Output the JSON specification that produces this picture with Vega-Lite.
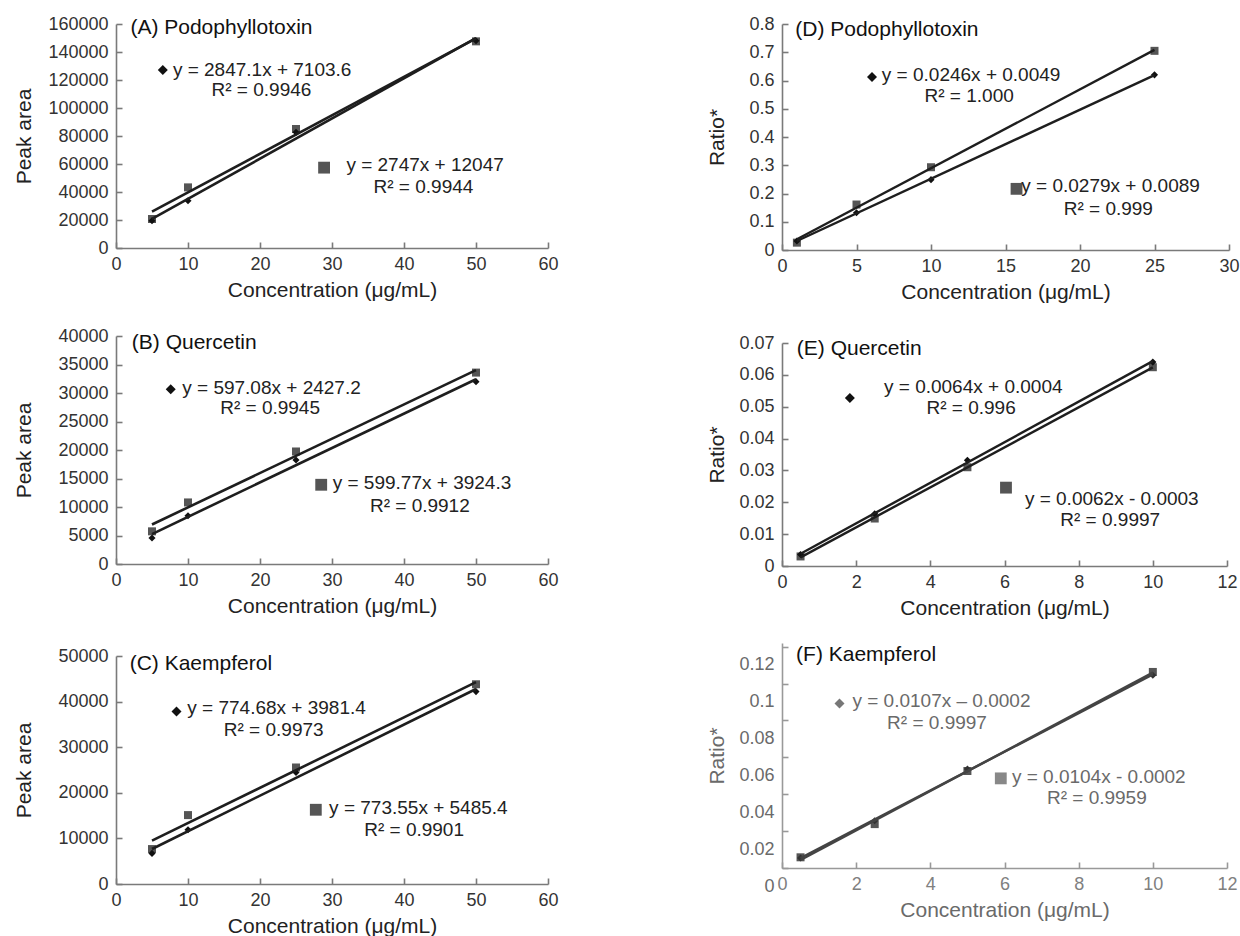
{
"$schema": "https://vega.github.io/schema/vega-lite/v6.json",
"padding": {"left": 13, "top": 15, "right": 0, "bottom": 0},
"background": "white",
"datasets": {
"pts": [
{"p":"A","s":"d","x":5,"y":19500},{"p":"A","s":"d","x":10,"y":33800},{"p":"A","s":"d","x":25,"y":82600},{"p":"A","s":"d","x":50,"y":148000},
{"p":"A","s":"q","x":5,"y":20700},{"p":"A","s":"q","x":10,"y":43300},{"p":"A","s":"q","x":25,"y":85000},{"p":"A","s":"q","x":50,"y":147600},
{"p":"B","s":"d","x":5,"y":4560},{"p":"B","s":"d","x":10,"y":8480},{"p":"B","s":"d","x":25,"y":18240},{"p":"B","s":"d","x":50,"y":31990},
{"p":"B","s":"q","x":5,"y":5730},{"p":"B","s":"q","x":10,"y":10800},{"p":"B","s":"q","x":25,"y":19740},{"p":"B","s":"q","x":50,"y":33580},
{"p":"C","s":"d","x":5,"y":6715},{"p":"C","s":"d","x":10,"y":11900},{"p":"C","s":"d","x":25,"y":24450},{"p":"C","s":"d","x":50,"y":42190},
{"p":"C","s":"q","x":5,"y":7660},{"p":"C","s":"q","x":10,"y":15110},{"p":"C","s":"q","x":25,"y":25550},{"p":"C","s":"q","x":50,"y":43800},
{"p":"D","s":"d","x":1,"y":0.032},{"p":"D","s":"d","x":5,"y":0.132},{"p":"D","s":"d","x":10,"y":0.249},{"p":"D","s":"d","x":25,"y":0.62},
{"p":"D","s":"q","x":1,"y":0.026},{"p":"D","s":"q","x":5,"y":0.161},{"p":"D","s":"q","x":10,"y":0.293},{"p":"D","s":"q","x":25,"y":0.705},
{"p":"E","s":"d","x":0.5,"y":0.0036},{"p":"E","s":"d","x":2.5,"y":0.0164},{"p":"E","s":"d","x":5,"y":0.0332},{"p":"E","s":"d","x":10,"y":0.064},
{"p":"E","s":"q","x":0.5,"y":0.003},{"p":"E","s":"q","x":2.5,"y":0.0149},{"p":"E","s":"q","x":5,"y":0.031},{"p":"E","s":"q","x":10,"y":0.0624},
{"p":"F","s":"d","x":0.5,"y":0.0054},{"p":"F","s":"d","x":2.5,"y":0.0256},{"p":"F","s":"d","x":5,"y":0.0537},{"p":"F","s":"d","x":10,"y":0.1045},
{"p":"F","s":"q","x":0.5,"y":0.0058},{"p":"F","s":"q","x":2.5,"y":0.0238},{"p":"F","s":"q","x":5,"y":0.0526},{"p":"F","s":"q","x":10,"y":0.1063}
],
"ann": [
{"p":"A","k":"ttl","s":"","x":2.0,"y":157000,"t":"(A) Podophyllotoxin"},
{"p":"A","k":"mk","s":"d","x":6.5,"y":127100,"t":""},
{"p":"A","k":"eq","s":"d","x":7.9,"y":127100,"t":"y = 2847.1x + 7103.6"},
{"p":"A","k":"r2","s":"d","x":20.2,"y":112900,"t":"R² = 0.9946"},
{"p":"A","k":"mk","s":"q","x":28.9,"y":57400,"t":""},
{"p":"A","k":"eq","s":"q","x":32.0,"y":59500,"t":"y = 2747x + 12047"},
{"p":"A","k":"r2","s":"q","x":42.7,"y":43800,"t":"R² = 0.9944"},
{"p":"B","k":"ttl","s":"","x":2.2,"y":38800,"t":"(B) Quercetin"},
{"p":"B","k":"mk","s":"d","x":7.6,"y":30660,"t":""},
{"p":"B","k":"eq","s":"d","x":9.2,"y":30950,"t":"y = 597.08x + 2427.2"},
{"p":"B","k":"r2","s":"d","x":21.4,"y":27330,"t":"R² = 0.9945"},
{"p":"B","k":"mk","s":"q","x":28.5,"y":13900,"t":""},
{"p":"B","k":"eq","s":"q","x":30.1,"y":14130,"t":"y = 599.77x + 3924.3"},
{"p":"B","k":"r2","s":"q","x":42.2,"y":10100,"t":"R² = 0.9912"},
{"p":"C","k":"ttl","s":"","x":1.9,"y":48180,"t":"(C) Kaempferol"},
{"p":"C","k":"mk","s":"d","x":8.4,"y":37810,"t":""},
{"p":"C","k":"eq","s":"d","x":9.9,"y":38540,"t":"y = 774.68x + 3981.4"},
{"p":"C","k":"r2","s":"d","x":21.9,"y":33800,"t":"R² = 0.9973"},
{"p":"C","k":"mk","s":"q","x":27.75,"y":16280,"t":""},
{"p":"C","k":"eq","s":"q","x":29.6,"y":16640,"t":"y = 773.55x + 5485.4"},
{"p":"C","k":"r2","s":"q","x":41.4,"y":11820,"t":"R² = 0.9901"},
{"p":"D","k":"ttl","s":"","x":0.89,"y":0.779,"t":"(D) Podophyllotoxin"},
{"p":"D","k":"mk","s":"d","x":6.04,"y":0.612,"t":""},
{"p":"D","k":"eq","s":"d","x":6.7,"y":0.62,"t":"y = 0.0246x + 0.0049"},
{"p":"D","k":"r2","s":"d","x":12.56,"y":0.546,"t":"R² = 1.000"},
{"p":"D","k":"mk","s":"q","x":15.74,"y":0.2165,"t":""},
{"p":"D","k":"eq","s":"q","x":16.06,"y":0.228,"t":"y = 0.0279x + 0.0089"},
{"p":"D","k":"r2","s":"q","x":21.9,"y":0.146,"t":"R² = 0.999"},
{"p":"E","k":"ttl","s":"","x":0.4,"y":0.0682,"t":"(E) Quercetin"},
{"p":"E","k":"mk","s":"d","x":1.83,"y":0.0527,"t":""},
{"p":"E","k":"eq","s":"d","x":2.75,"y":0.0562,"t":"y = 0.0064x + 0.0004"},
{"p":"E","k":"r2","s":"d","x":5.1,"y":0.0497,"t":"R² = 0.996"},
{"p":"E","k":"mk","s":"q","x":6.04,"y":0.0246,"t":""},
{"p":"E","k":"eq","s":"q","x":6.55,"y":0.0211,"t":"y = 0.0062x - 0.0003"},
{"p":"E","k":"r2","s":"q","x":8.85,"y":0.01455,"t":"R² = 0.9997"},
{"p":"F","k":"ttl","s":"","x":0.38,"y":0.1157,"t":"(F) Kaempferol"},
{"p":"F","k":"mk","s":"d","x":1.55,"y":0.0892,"t":""},
{"p":"F","k":"eq","s":"d","x":1.9,"y":0.0905,"t":"y = 0.0107x – 0.0002"},
{"p":"F","k":"r2","s":"d","x":4.18,"y":0.0784,"t":"R² = 0.9997"},
{"p":"F","k":"mk","s":"q","x":5.9,"y":0.0486,"t":""},
{"p":"F","k":"eq","s":"q","x":6.2,"y":0.0495,"t":"y = 0.0104x - 0.0002"},
{"p":"F","k":"r2","s":"q","x":8.49,"y":0.0382,"t":"R² = 0.9959"}
]
},
"hconcat": [
{"vconcat": [
{"width": 432, "height": 224,
 "encoding": {
  "x": {"field":"x","type":"quantitative","scale":{"domain":[0,60],"nice":false},"axis":{"values":[0,10,20,30,40,50,60],"title":"Concentration (μg/mL)"}},
  "y": {"field":"y","type":"quantitative","scale":{"domain":[0,160000],"nice":false},"axis":{"values":[0,20000,40000,60000,80000,100000,120000,140000,160000],"format":"d","title":"Peak area"}}},
 "layer": [
  {"data":{"name":"pts"},"transform":[{"filter":"datum.p==='A' && datum.s==='q'"}],"mark":{"type":"point","shape":"square","filled":true,"size":64,"color":"#555555","opacity":1}},
  {"data":{"name":"pts"},"transform":[{"filter":"datum.p==='A' && datum.s==='d'"}],"mark":{"type":"point","shape":"diamond","filled":true,"size":50,"color":"#111111","opacity":1}},
  {"data":{"name":"pts"},"transform":[{"filter":"datum.p==='A'"},{"regression":"y","on":"x","groupby":["s"]}],"mark":{"type":"line","color":"#1e1e1e","strokeWidth":2.6},"encoding":{"detail":{"field":"s"}}},
  {"data":{"name":"ann"},"transform":[{"filter":"datum.p==='A' && datum.k==='mk' && datum.s==='d'"}],"mark":{"type":"point","shape":"diamond","filled":true,"size":100,"color":"#111111","opacity":1}},
  {"data":{"name":"ann"},"transform":[{"filter":"datum.p==='A' && datum.k==='mk' && datum.s==='q'"}],"mark":{"type":"point","shape":"square","filled":true,"size":140,"color":"#555555","opacity":1}},
  {"data":{"name":"ann"},"transform":[{"filter":"datum.p==='A' && datum.k==='eq'"}],"mark":{"type":"text","align":"left","baseline":"middle","fontSize":19,"color":"#222222"},"encoding":{"text":{"field":"t"}}},
  {"data":{"name":"ann"},"transform":[{"filter":"datum.p==='A' && datum.k==='r2'"}],"mark":{"type":"text","align":"center","baseline":"middle","fontSize":19,"color":"#222222"},"encoding":{"text":{"field":"t"}}},
  {"data":{"name":"ann"},"transform":[{"filter":"datum.p==='A' && datum.k==='ttl'"}],"mark":{"type":"text","align":"left","baseline":"middle","fontSize":21,"color":"#111111"},"encoding":{"text":{"field":"t"}}}
 ]},
{"vconcat": [
{"width": 432, "height": 228,
 "encoding": {
  "x": {"field":"x","type":"quantitative","scale":{"domain":[0,60],"nice":false},"axis":{"values":[0,10,20,30,40,50,60],"title":"Concentration (μg/mL)"}},
  "y": {"field":"y","type":"quantitative","scale":{"domain":[0,40000],"nice":false},"axis":{"values":[0,5000,10000,15000,20000,25000,30000,35000,40000],"format":"d","title":"Peak area"}}},
 "layer": [
  {"data":{"name":"pts"},"transform":[{"filter":"datum.p==='B' && datum.s==='q'"}],"mark":{"type":"point","shape":"square","filled":true,"size":64,"color":"#555555","opacity":1}},
  {"data":{"name":"pts"},"transform":[{"filter":"datum.p==='B' && datum.s==='d'"}],"mark":{"type":"point","shape":"diamond","filled":true,"size":50,"color":"#111111","opacity":1}},
  {"data":{"name":"pts"},"transform":[{"filter":"datum.p==='B'"},{"regression":"y","on":"x","groupby":["s"]}],"mark":{"type":"line","color":"#1e1e1e","strokeWidth":2.6},"encoding":{"detail":{"field":"s"}}},
  {"data":{"name":"ann"},"transform":[{"filter":"datum.p==='B' && datum.k==='mk' && datum.s==='d'"}],"mark":{"type":"point","shape":"diamond","filled":true,"size":100,"color":"#111111","opacity":1}},
  {"data":{"name":"ann"},"transform":[{"filter":"datum.p==='B' && datum.k==='mk' && datum.s==='q'"}],"mark":{"type":"point","shape":"square","filled":true,"size":140,"color":"#555555","opacity":1}},
  {"data":{"name":"ann"},"transform":[{"filter":"datum.p==='B' && datum.k==='eq'"}],"mark":{"type":"text","align":"left","baseline":"middle","fontSize":19,"color":"#222222"},"encoding":{"text":{"field":"t"}}},
  {"data":{"name":"ann"},"transform":[{"filter":"datum.p==='B' && datum.k==='r2'"}],"mark":{"type":"text","align":"center","baseline":"middle","fontSize":19,"color":"#222222"},"encoding":{"text":{"field":"t"}}},
  {"data":{"name":"ann"},"transform":[{"filter":"datum.p==='B' && datum.k==='ttl'"}],"mark":{"type":"text","align":"left","baseline":"middle","fontSize":21,"color":"#111111"},"encoding":{"text":{"field":"t"}}}
 ]},
{"width": 432, "height": 228,
 "encoding": {
  "x": {"field":"x","type":"quantitative","scale":{"domain":[0,60],"nice":false},"axis":{"values":[0,10,20,30,40,50,60],"title":"Concentration (μg/mL)"}},
  "y": {"field":"y","type":"quantitative","scale":{"domain":[0,50000],"nice":false},"axis":{"values":[0,10000,20000,30000,40000,50000],"format":"d","title":"Peak area"}}},
 "layer": [
  {"data":{"name":"pts"},"transform":[{"filter":"datum.p==='C' && datum.s==='q'"}],"mark":{"type":"point","shape":"square","filled":true,"size":64,"color":"#555555","opacity":1}},
  {"data":{"name":"pts"},"transform":[{"filter":"datum.p==='C' && datum.s==='d'"}],"mark":{"type":"point","shape":"diamond","filled":true,"size":50,"color":"#111111","opacity":1}},
  {"data":{"name":"pts"},"transform":[{"filter":"datum.p==='C'"},{"regression":"y","on":"x","groupby":["s"]}],"mark":{"type":"line","color":"#1e1e1e","strokeWidth":2.6},"encoding":{"detail":{"field":"s"}}},
  {"data":{"name":"ann"},"transform":[{"filter":"datum.p==='C' && datum.k==='mk' && datum.s==='d'"}],"mark":{"type":"point","shape":"diamond","filled":true,"size":100,"color":"#111111","opacity":1}},
  {"data":{"name":"ann"},"transform":[{"filter":"datum.p==='C' && datum.k==='mk' && datum.s==='q'"}],"mark":{"type":"point","shape":"square","filled":true,"size":140,"color":"#555555","opacity":1}},
  {"data":{"name":"ann"},"transform":[{"filter":"datum.p==='C' && datum.k==='eq'"}],"mark":{"type":"text","align":"left","baseline":"middle","fontSize":19,"color":"#222222"},"encoding":{"text":{"field":"t"}}},
  {"data":{"name":"ann"},"transform":[{"filter":"datum.p==='C' && datum.k==='r2'"}],"mark":{"type":"text","align":"center","baseline":"middle","fontSize":19,"color":"#222222"},"encoding":{"text":{"field":"t"}}},
  {"data":{"name":"ann"},"transform":[{"filter":"datum.p==='C' && datum.k==='ttl'"}],"mark":{"type":"text","align":"left","baseline":"middle","fontSize":21,"color":"#111111"},"encoding":{"text":{"field":"t"}}}
 ]}
], "spacing": 31}
], "spacing": 27},
{"vconcat": [
{"width": 447, "height": 226,
 "encoding": {
  "x": {"field":"x","type":"quantitative","scale":{"domain":[0,30],"nice":false},"axis":{"values":[0,5,10,15,20,25,30],"title":"Concentration (μg/mL)"}},
  "y": {"field":"y","type":"quantitative","scale":{"domain":[0,0.8],"nice":false},"axis":{"values":[0,0.1,0.2,0.3,0.4,0.5,0.6,0.7,0.8],"format":"~g","title":"Ratio*","minExtent":44,"maxExtent":44,"titlePadding":11}}},
 "layer": [
  {"data":{"name":"pts"},"transform":[{"filter":"datum.p==='D' && datum.s==='q'"}],"mark":{"type":"point","shape":"square","filled":true,"size":64,"color":"#555555","opacity":1}},
  {"data":{"name":"pts"},"transform":[{"filter":"datum.p==='D' && datum.s==='d'"}],"mark":{"type":"point","shape":"diamond","filled":true,"size":50,"color":"#111111","opacity":1}},
  {"data":{"name":"pts"},"transform":[{"filter":"datum.p==='D'"},{"regression":"y","on":"x","groupby":["s"]}],"mark":{"type":"line","color":"#1e1e1e","strokeWidth":2.4},"encoding":{"detail":{"field":"s"}}},
  {"data":{"name":"ann"},"transform":[{"filter":"datum.p==='D' && datum.k==='mk' && datum.s==='d'"}],"mark":{"type":"point","shape":"diamond","filled":true,"size":100,"color":"#111111","opacity":1}},
  {"data":{"name":"ann"},"transform":[{"filter":"datum.p==='D' && datum.k==='mk' && datum.s==='q'"}],"mark":{"type":"point","shape":"square","filled":true,"size":140,"color":"#555555","opacity":1}},
  {"data":{"name":"ann"},"transform":[{"filter":"datum.p==='D' && datum.k==='eq'"}],"mark":{"type":"text","align":"left","baseline":"middle","fontSize":19,"color":"#222222"},"encoding":{"text":{"field":"t"}}},
  {"data":{"name":"ann"},"transform":[{"filter":"datum.p==='D' && datum.k==='r2'"}],"mark":{"type":"text","align":"center","baseline":"middle","fontSize":19,"color":"#222222"},"encoding":{"text":{"field":"t"}}},
  {"data":{"name":"ann"},"transform":[{"filter":"datum.p==='D' && datum.k==='ttl'"}],"mark":{"type":"text","align":"left","baseline":"middle","fontSize":21,"color":"#111111"},"encoding":{"text":{"field":"t"}}}
 ]},
{"vconcat": [
{"width": 445, "height": 223,
 "encoding": {
  "x": {"field":"x","type":"quantitative","scale":{"domain":[0,12],"nice":false},"axis":{"values":[0,2,4,6,8,10,12],"title":"Concentration (μg/mL)"}},
  "y": {"field":"y","type":"quantitative","scale":{"domain":[0,0.07],"nice":false},"axis":{"values":[0,0.01,0.02,0.03,0.04,0.05,0.06,0.07],"format":"~g","title":"Ratio*","minExtent":44,"maxExtent":44,"titlePadding":11}}},
 "layer": [
  {"data":{"name":"pts"},"transform":[{"filter":"datum.p==='E' && datum.s==='q'"}],"mark":{"type":"point","shape":"square","filled":true,"size":64,"color":"#555555","opacity":1}},
  {"data":{"name":"pts"},"transform":[{"filter":"datum.p==='E' && datum.s==='d'"}],"mark":{"type":"point","shape":"diamond","filled":true,"size":50,"color":"#111111","opacity":1}},
  {"data":{"name":"pts"},"transform":[{"filter":"datum.p==='E'"},{"regression":"y","on":"x","groupby":["s"]}],"mark":{"type":"line","color":"#1e1e1e","strokeWidth":2.4},"encoding":{"detail":{"field":"s"}}},
  {"data":{"name":"ann"},"transform":[{"filter":"datum.p==='E' && datum.k==='mk' && datum.s==='d'"}],"mark":{"type":"point","shape":"diamond","filled":true,"size":100,"color":"#111111","opacity":1}},
  {"data":{"name":"ann"},"transform":[{"filter":"datum.p==='E' && datum.k==='mk' && datum.s==='q'"}],"mark":{"type":"point","shape":"square","filled":true,"size":140,"color":"#555555","opacity":1}},
  {"data":{"name":"ann"},"transform":[{"filter":"datum.p==='E' && datum.k==='eq'"}],"mark":{"type":"text","align":"left","baseline":"middle","fontSize":19,"color":"#222222"},"encoding":{"text":{"field":"t"}}},
  {"data":{"name":"ann"},"transform":[{"filter":"datum.p==='E' && datum.k==='r2'"}],"mark":{"type":"text","align":"center","baseline":"middle","fontSize":19,"color":"#222222"},"encoding":{"text":{"field":"t"}}},
  {"data":{"name":"ann"},"transform":[{"filter":"datum.p==='E' && datum.k==='ttl'"}],"mark":{"type":"text","align":"left","baseline":"middle","fontSize":21,"color":"#111111"},"encoding":{"text":{"field":"t"}}}
 ]},
{"width": 445, "height": 225,
 "encoding": {
  "x": {"field":"x","type":"quantitative","scale":{"domain":[0,12],"nice":false},"axis":{"values":[0,2,4,6,8,10,12],"title":"Concentration (μg/mL)","labelColor":"#808080","titleColor":"#6a6a6a","domainColor":"#999999","tickColor":"#999999"}},
  "y": {"field":"y","type":"quantitative","scale":{"domain":[0,0.122],"nice":false},"axis":{"values":[0,0.02,0.04,0.06,0.08,0.1,0.12],"format":"~g","title":"Ratio*","minExtent":44,"maxExtent":44,"titlePadding":11,"labelOffset":18,"labelColor":"#6a6a6a","titleColor":"#6a6a6a","domainColor":"#999999","tickColor":"#999999"}}},
 "layer": [
  {"data":{"name":"pts"},"transform":[{"filter":"datum.p==='F' && datum.s==='q'"}],"mark":{"type":"point","shape":"square","filled":true,"size":64,"color":"#555555","opacity":1}},
  {"data":{"name":"pts"},"transform":[{"filter":"datum.p==='F' && datum.s==='d'"}],"mark":{"type":"point","shape":"diamond","filled":true,"size":50,"color":"#333333","opacity":1}},
  {"data":{"name":"pts"},"transform":[{"filter":"datum.p==='F'"},{"regression":"y","on":"x","groupby":["s"]}],"mark":{"type":"line","color":"#444444","strokeWidth":2.4},"encoding":{"detail":{"field":"s"}}},
  {"data":{"name":"ann"},"transform":[{"filter":"datum.p==='F' && datum.k==='mk' && datum.s==='d'"}],"mark":{"type":"point","shape":"diamond","filled":true,"size":100,"color":"#777777","opacity":1}},
  {"data":{"name":"ann"},"transform":[{"filter":"datum.p==='F' && datum.k==='mk' && datum.s==='q'"}],"mark":{"type":"point","shape":"square","filled":true,"size":140,"color":"#888888","opacity":1}},
  {"data":{"name":"ann"},"transform":[{"filter":"datum.p==='F' && datum.k==='eq'"}],"mark":{"type":"text","align":"left","baseline":"middle","fontSize":19,"color":"#6a6a6a"},"encoding":{"text":{"field":"t"}}},
  {"data":{"name":"ann"},"transform":[{"filter":"datum.p==='F' && datum.k==='r2'"}],"mark":{"type":"text","align":"center","baseline":"middle","fontSize":19,"color":"#6a6a6a"},"encoding":{"text":{"field":"t"}}},
  {"data":{"name":"ann"},"transform":[{"filter":"datum.p==='F' && datum.k==='ttl'"}],"mark":{"type":"text","align":"left","baseline":"middle","fontSize":21,"color":"#111111"},"encoding":{"text":{"field":"t"}}}
 ]}
], "spacing": 25}
], "spacing": 32}
],
"spacing": 147,
"config": {
 "view": {"stroke": null},
 "font": "Liberation Sans",
 "text": {"font": "Liberation Sans"},
 "axis": {"grid": false, "domainColor": "#7a7a7a", "domainWidth": 1.6, "tickColor": "#7a7a7a", "tickWidth": 1.6, "tickSize": -6, "labelColor": "#333333", "labelFontSize": 18, "labelFont": "Liberation Sans", "titleFont": "Liberation Sans", "titleFontSize": 21, "titleFontWeight": "normal", "titleColor": "#222222", "labelFlush": false, "labelOverlap": false},
 "axisY": {"minExtent": 70, "maxExtent": 70, "titlePadding": 12, "labelPadding": 14},
 "axisX": {"titlePadding": 6, "labelPadding": 13}
}
}
